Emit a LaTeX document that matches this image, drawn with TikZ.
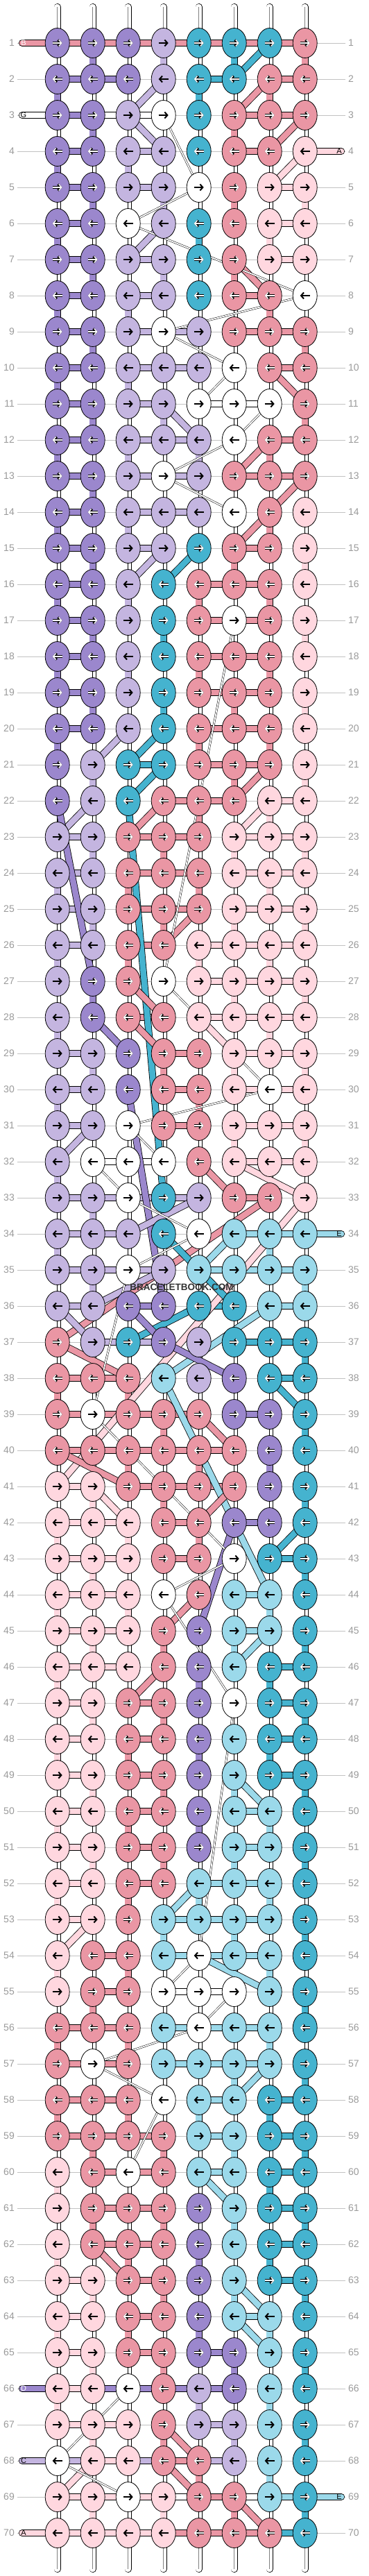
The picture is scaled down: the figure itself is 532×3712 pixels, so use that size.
\documentclass[tikz,border=0pt]{standalone}
\usepackage{fontspec}
\setmainfont{Liberation Sans}
\usetikzlibrary{shapes.geometric,arrows.meta}
\definecolor{kP}{HTML}{9B87CD}
\definecolor{kL}{HTML}{C4B5E0}
\definecolor{kT}{HTML}{45B3CF}
\definecolor{kB}{HTML}{9BD9EA}
\definecolor{kR}{HTML}{EA96A4}
\definecolor{kK}{HTML}{FFD7DF}
\colorlet{kW}{white}
\definecolor{guidegray}{HTML}{C2C2C2}
\definecolor{labgray}{HTML}{9A9A9A}
\definecolor{markgray}{HTML}{333333}
\newcommand{\stripbraces}[1]{#1}
\pgfdeclarelayer{bars}
\pgfsetlayers{bars,main}
\tikzstyle{knot} = [ellipse, draw, line width=.8pt, minimum width=35pt, minimum height=43pt, inner sep=0pt]
\tikzstyle{rowlab} = [text=labgray, font=\fontsize{14}{14}\selectfont, inner sep=4pt]
\tikzstyle{guide} = [draw=guidegray, line width=.8pt]
\tikzstyle{fine} = [draw=black, line width=.5pt, double=white, double distance=1.8pt]
\tikzstyle{tag} = [font=\fontsize{11}{11}\selectfont, inner sep=0pt]
\tikzset{
  thread/.style={draw=black, line width=.8pt, double=#1, double distance=8.6pt},
  knottip/.style={-{Straight Barb[length=4pt,width=9pt]}},
  lightarrow/.style={knottip, draw=black, line width=2pt},
  darkarrow/.style={knottip, draw=white, line width=1.4pt},
  arrowrim/.style={knottip, draw=black, line width=3.2pt},
  arrP/.style=darkarrow, arrT/.style=darkarrow, arrR/.style=darkarrow,
  arrL/.style=lightarrow, arrB/.style=lightarrow, arrK/.style=lightarrow, arrW/.style=lightarrow,
  underP/.style=arrowrim, underT/.style=arrowrim, underR/.style=arrowrim,
  underL/.style={draw=none}, underB/.style={draw=none}, underK/.style={draw=none}, underW/.style={draw=none}
}

\begin{document}
\begin{tikzpicture}[x=1pt,y=-1pt]
\useasboundingbox (0,0) rectangle (532,3712);

% knots, row by row
\foreach \r/\row in {
  1/{P,P,P,L,T,T,T,R}, 2/{P,P,P,L,T,T,R,R}, 3/{P,P,L,W,T,R,R,R}, 4/{P,P,L,L,T,R,R,K},
  5/{P,P,L,L,W,R,K,K}, 6/{P,P,W,L,T,R,K,K}, 7/{P,P,L,L,T,R,K,K}, 8/{P,P,L,L,T,R,R,W},
  9/{P,P,L,W,L,R,R,R}, 10/{P,P,L,L,L,W,R,R}, 11/{P,P,L,L,W,W,W,R}, 12/{P,P,L,L,L,W,R,R},
  13/{P,P,L,W,L,R,R,R}, 14/{P,P,L,L,L,W,R,K}, 15/{P,P,L,L,T,R,R,K}, 16/{P,P,L,T,R,R,R,K},
  17/{P,P,L,T,R,W,R,K}, 18/{P,P,L,T,R,R,R,K}, 19/{P,P,L,T,R,R,R,K}, 20/{P,P,L,T,R,R,R,K},
  21/{P,L,T,T,R,R,R,K}, 22/{P,L,T,R,R,R,K,K}, 23/{L,L,R,R,R,K,K,K}, 24/{L,L,R,R,R,K,K,K},
  25/{L,L,R,R,R,K,K,K}, 26/{L,L,R,R,K,K,K,K}, 27/{L,P,R,W,K,K,K,K}, 28/{L,P,R,R,K,K,K,K},
  29/{L,L,P,R,R,K,K,K}, 30/{L,L,P,R,R,K,W,K}, 31/{L,L,W,R,R,K,K,K}, 32/{L,W,W,W,R,K,K,K},
  33/{L,L,W,T,L,R,R,K}, 34/{L,L,L,T,W,B,B,B}, 35/{L,L,W,L,B,B,B,B}, 36/{L,L,P,P,T,T,B,B},
  37/{R,L,T,P,L,T,T,T}, 38/{R,R,R,B,L,P,T,T}, 39/{R,W,R,R,R,P,P,T}, 40/{R,R,R,R,R,R,P,T},
  41/{K,K,R,R,R,R,P,T}, 42/{K,K,K,R,R,P,P,T}, 43/{K,K,K,R,R,W,T,T}, 44/{K,K,K,W,R,B,B,T},
  45/{K,K,K,R,P,B,B,T}, 46/{K,K,K,R,P,B,T,T}, 47/{K,K,R,R,P,W,T,T}, 48/{K,K,R,R,P,B,T,T},
  49/{K,K,R,R,P,B,T,T}, 50/{K,K,R,R,P,B,B,T}, 51/{K,K,R,R,P,B,B,T}, 52/{K,K,R,R,B,B,B,T},
  53/{K,K,R,B,B,B,B,T}, 54/{K,R,R,B,W,B,B,T}, 55/{K,R,R,W,W,W,B,T}, 56/{R,R,R,B,W,B,B,T},
  57/{R,W,R,B,B,B,B,T}, 58/{R,R,R,W,B,B,T,T}, 59/{R,R,R,R,B,B,T,T}, 60/{K,R,W,R,B,B,T,T},
  61/{K,R,R,R,P,B,T,T}, 62/{K,R,R,R,P,B,T,T}, 63/{K,K,R,R,P,B,T,T}, 64/{K,K,R,R,P,B,B,T},
  65/{K,K,R,R,P,P,B,T}, 66/{K,K,W,R,L,P,B,T}, 67/{K,K,K,R,L,L,B,T}, 68/{W,K,K,R,R,L,B,T},
  69/{K,K,W,K,R,R,B,T}, 70/{K,K,K,K,R,R,R,T}}{
  \ifodd\r\relax\def\ta{-7pt}\def\tb{7pt}\else\def\ta{7pt}\def\tb{-7pt}\fi
  \edef\flat{\expandafter\stripbraces\row}
  \foreach \k [count=\c] in \flat {
    \node[knot, fill=k\k] (k-\r-\c) at ({82.7+51*(\c-1)},{62+52*(\r-1)}) {};
    \draw[under\k] ([xshift=\ta]k-\r-\c.center) -- ([xshift=\tb]k-\r-\c.center);
    \draw[arr\k] ([xshift=\ta]k-\r-\c.center) -- ([xshift=\tb]k-\r-\c.center);
    \expandafter\xdef\csname kc-\r-\c\endcsname{\k}
  }
}

% row numbers
\foreach \r in {1,...,70}{
  \node[rowlab, anchor=east] (lab-l-\r) at (25,{62+52*(\r-1)}) {\r};
  \node[rowlab, anchor=west] (lab-r-\r) at (498,{62+52*(\r-1)}) {\r};
}

\begin{pgfonlayer}{bars}
\foreach \r in {1,...,70}
  \draw[guide] (lab-l-\r) -- (lab-r-\r);

% loose ends top and bottom
\foreach \c in {1,...,8}{
  \coordinate (top-\c) at ({82.7+51*(\c-1)},10);
  \coordinate (end-\c) at ({82.7+51*(\c-1)},3702);
  \draw[thread=white, line cap=round] (top-\c) -- (k-1-\c.center);
  \draw[thread=white, line cap=round] (end-\c) -- (k-70-\c.center);
  \draw[line width=.5pt, draw=gray] (top-\c) -- (k-1-\c.center);
  \draw[line width=.5pt, draw=gray] (end-\c) -- (k-70-\c.center);
}

% threads coming in from the sides
\foreach \r/\c/\x/\k/\lt/\tc/\lx in {1/1/32/R/B/white/34, 3/1/32/W/G/black/34,
    4/8/492/K/A/black/489, 34/8/492/B/E/black/489, 66/1/32/P/D/white/34,
    68/1/32/L/C/black/34, 69/8/492/B/E/black/489, 70/1/32/K/A/black/34}{
  \coordinate (side-\r) at (\x,{62+52*(\r-1)});
  \draw[thread=k\k, line cap=round] (side-\r) -- (k-\r-\c.center);
  \node[tag, text=\tc] (tag-\r) at (\lx,{62+52*(\r-1)}) {\lt};
}

% vertical links
\foreach \r in {1,...,69}{
  \pgfmathtruncatemacro\rn{\r+1}
  \foreach \c in {1,...,8}{
    \pgfmathtruncatemacro\odd{mod(\r+\c,2)}
    \edef\up{\csname kc-\r-\c\endcsname}
    \edef\dn{\csname kc-\rn-\c\endcsname}
    \def\vk{W}
    \ifnum\odd=1 \ifx\up\dn \let\vk\up \fi\fi
    \draw[thread=k\vk] (k-\r-\c.center) -- (k-\rn-\c.center);
    \if W\vk \draw[line width=.5pt] (k-\r-\c.center) -- (k-\rn-\c.center); \fi
  }
}

% horizontal links
\foreach \r/\list in {
  1/{1/R,2/R,3/R,4/R,5/R,6/R,7/R}, 2/{1/P,2/P,5/T,7/R}, 3/{1/P,2/W,3/W,6/R,7/R},
  4/{1/P,3/L,6/R}, 5/{1/P,3/L,7/K}, 6/{1/P,7/K}, 7/{1/P,3/L,7/K}, 8/{1/P,3/L,6/R},
  9/{1/P,3/L,4/L,6/R,7/R}, 10/{1/P,3/L,4/L,7/R}, 11/{1/P,3/L,5/W,6/W},
  12/{1/P,3/L,4/L,7/R}, 13/{1/P,3/L,4/L,6/R,7/R}, 14/{1/P,3/L,4/L}, 15/{1/P,3/L,6/R},
  16/{1/P,5/R,6/R}, 17/{1/P,5/R,6/R}, 18/{1/P,5/R,6/R}, 19/{1/P,5/R,6/R}, 20/{1/P,5/R,6/R},
  21/{3/T,5/R,6/R}, 22/{4/R,5/R,7/K}, 23/{1/L,3/R,4/R,6/K,7/K}, 24/{1/L,3/R,4/R,6/K,7/K},
  25/{1/L,3/R,4/R,6/K,7/K}, 26/{1/L,3/R,5/K,6/K,7/K}, 27/{5/K,6/K,7/K}, 28/{3/R,5/K,6/K,7/K},
  29/{1/L,4/R,6/K,7/K}, 30/{1/L,4/R,6/K,7/K}, 31/{1/L,4/R,6/K,7/K}, 32/{2/W,3/W,6/K,7/K},
  33/{1/L,2/L,3/L,4/L,6/R}, 34/{1/L,2/L,6/B,7/B}, 35/{1/L,2/L,3/L,5/B,6/B,7/B},
  36/{1/L,3/P,5/T,7/B}, 37/{2/L,3/L,6/T,7/T}, 38/{1/R,2/R,7/T}, 39/{1/R,2/R,3/R,4/R,6/P},
  40/{1/R,2/R,3/R,4/R,5/R}, 41/{1/K,3/R,4/R,5/R}, 42/{1/K,2/K,4/R,6/P}, 43/{1/K,2/K,4/R,7/T},
  44/{1/K,2/K,6/B}, 45/{1/K,2/K,6/B}, 46/{1/K,2/K,7/T}, 47/{1/K,3/R,7/T}, 48/{1/K,3/R,7/T},
  49/{1/K,3/R,7/T}, 50/{1/K,3/R,6/B}, 51/{1/K,3/R,6/B}, 52/{1/K,3/R,5/B,6/B},
  53/{1/K,4/B,5/B,6/B}, 54/{2/R,4/B,5/B,6/B}, 55/{2/R,4/W,5/W}, 56/{1/R,2/R,4/B,5/B,6/B},
  57/{1/R,2/R,4/B,5/B,6/B}, 58/{1/R,2/R,5/B,7/T}, 59/{1/R,2/R,3/R,5/B,7/T}, 60/{2/R,3/R,5/B,7/T},
  61/{2/R,3/R,7/T}, 62/{2/R,3/R,7/T}, 63/{1/K,3/R,7/T}, 64/{1/K,3/R,6/B}, 65/{1/K,3/R,5/P},
  66/{1/K,2/P,3/P,4/P,5/P}, 67/{1/K,2/K,5/L}, 68/{1/L,2/K,3/L,4/R,5/L},
  69/{1/K,2/K,3/K,4/W,5/R,6/W,7/B}, 70/{1/K,2/K,3/K,4/R,5/R,6/R,7/T}}{
  \edef\flat{\expandafter\stripbraces\list}
  \foreach \i/\k in \flat {
    \pgfmathtruncatemacro\j{\i+1}
    \draw[thread=k\k] (k-\r-\i.center) -- (k-\r-\j.center);
  }
}

% threads changing columns
\foreach \ra/\ca/\rb/\cb/\k in {
  1/7/2/6/T, 2/7/3/6/R, 2/4/3/3/L, 3/3/4/4/L, 3/8/4/7/R, 4/8/5/7/K, 6/4/7/3/L, 7/6/8/7/R,
  10/7/11/8/R, 11/4/12/5/L, 12/7/13/6/R, 13/8/14/7/R, 14/7/15/6/R, 15/4/16/3/L, 15/5/16/4/T,
  20/3/21/2/L, 20/4/21/3/T, 21/4/22/3/T, 21/7/22/6/R, 22/2/23/1/L, 22/4/23/3/R, 22/7/23/6/K,
  22/1/27/2/P, 22/3/33/4/T, 25/5/26/4/R, 27/3/28/4/R, 28/2/29/3/P, 28/3/29/4/R, 28/5/29/6/K,
  30/3/36/4/P, 31/2/32/1/L, 32/5/33/6/R, 32/6/33/8/K, 33/5/34/3/L, 33/7/37/1/R, 33/8/41/1/K,
  34/6/35/5/B, 34/4/36/6/T, 35/4/36/2/L, 36/5/37/3/T, 36/7/38/4/B, 36/1/37/2/L, 36/3/37/4/P,
  37/4/38/6/P, 37/1/38/3/R, 38/4/44/7/B, 38/7/39/8/T, 39/5/40/6/R, 40/1/41/3/R, 41/2/42/3/K,
  41/6/42/5/R, 42/6/45/5/P, 42/8/43/7/T, 44/5/45/4/R, 45/7/46/6/B, 46/4/47/3/R, 49/6/50/7/B,
  52/5/53/4/B, 53/2/54/1/K, 54/5/55/7/B, 57/7/58/6/B, 60/5/61/6/B, 62/2/63/3/R, 63/6/64/7/B,
  64/6/65/7/B, 67/4/68/5/R, 68/4/69/5/R, 69/6/70/7/R, 68/2/69/1/K}
  \draw[thread=k\k] (k-\ra-\ca.center) -- (k-\rb-\cb.center);

\foreach \ra/\ca/\rb/\cb in {
  3/4/5/5, 5/5/6/3, 6/3/8/8, 8/8/9/4, 9/4/10/6, 10/6/11/5, 11/7/12/6, 12/6/13/4, 13/4/14/6,
  17/6/27/4, 27/4/28/5, 29/6/30/7, 30/7/31/3, 31/3/32/4, 32/2/33/3, 33/3/34/5, 34/5/35/3,
  35/3/39/2, 39/2/40/3, 40/3/41/4, 41/4/42/5, 42/5/43/6, 43/6/44/4, 44/4/47/6, 47/6/54/5,
  54/5/55/4, 55/6/56/5, 56/5/57/2, 57/2/58/4, 58/4/60/3, 66/3/68/1, 68/1/69/3}
  \draw[fine] (k-\ra-\ca.center) -- (k-\rb-\cb.center);
\end{pgfonlayer}

\node[font=\bfseries\fontsize{13.5}{14}\selectfont, text=markgray] (mark) at (262,1855) {BRACELETBOOK.COM};
\end{tikzpicture}
\end{document}
